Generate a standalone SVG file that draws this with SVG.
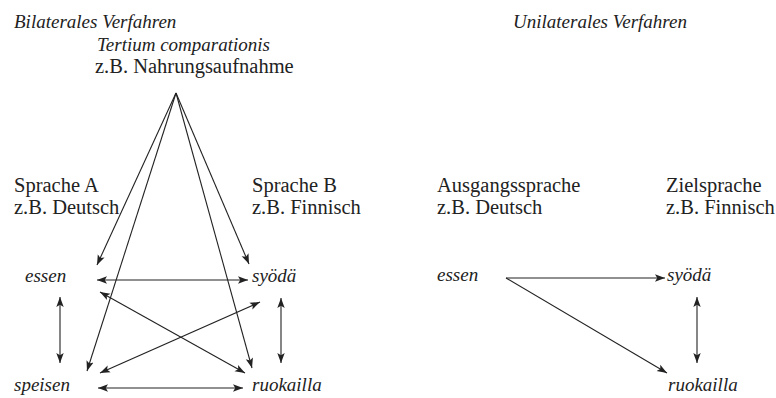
<svg xmlns="http://www.w3.org/2000/svg" width="776" height="398" viewBox="0 0 776 398">
<style>
text{font-family:"Liberation Serif","Times New Roman",serif;font-size:20.5px;fill:#222}
.it{font-style:italic;font-size:19px}
.c line{stroke:#222;stroke-width:1.1;fill:none}
.a{marker-end:url(#ah)}
.b{marker-start:url(#as);marker-end:url(#ah)}
</style>
<defs>
<marker id="ah" markerUnits="userSpaceOnUse" markerWidth="11" markerHeight="9" refX="10" refY="4.5" orient="auto"><path d="M0,0.8 L10,4.5 L0,8.2 L2.2,4.5 z" fill="#222"/></marker>
<marker id="as" markerUnits="userSpaceOnUse" markerWidth="11" markerHeight="9" refX="0" refY="4.5" orient="auto"><path d="M10,0.8 L0,4.5 L10,8.2 L7.8,4.5 z" fill="#222"/></marker>
</defs>
<rect width="776" height="398" fill="#fff"/>
<g id="title-bilateral"><text class="it" x="14" y="28">Bilaterales Verfahren</text></g>
<g id="tertium"><text class="it" x="97" y="51">Tertium comparationis</text><text x="95" y="73">z.B. Nahrungsaufnahme</text></g>
<g id="sprache-a"><text x="14" y="192">Sprache A</text><text x="14" y="214">z.B. Deutsch</text></g>
<g id="sprache-b"><text x="252" y="192">Sprache B</text><text x="252" y="214">z.B. Finnisch</text></g>
<g id="l-essen"><text class="it" x="25" y="282">essen</text></g>
<g id="l-speisen"><text class="it" x="14" y="391">speisen</text></g>
<g id="l-syoda"><text class="it" x="252" y="282">syödä</text></g>
<g id="l-ruokailla"><text class="it" x="252" y="391">ruokailla</text></g>
<g id="title-unilateral"><text class="it" x="513" y="28">Unilaterales Verfahren</text></g>
<g id="ausgang"><text x="437" y="192">Ausgangssprache</text><text x="437" y="214">z.B. Deutsch</text></g>
<g id="ziel"><text x="666" y="192">Zielsprache</text><text x="666" y="214">z.B. Finnisch</text></g>
<g id="r-essen"><text class="it" x="437" y="281">essen</text></g>
<g id="r-syoda"><text class="it" x="667" y="281">syödä</text></g>
<g id="r-ruokailla"><text class="it" x="668" y="391">ruokailla</text></g>
<g class="c" id="connectors">
<line class="a" x1="176" y1="93" x2="97" y2="265"/>
<line class="a" x1="176" y1="93" x2="87" y2="371"/>
<line class="a" x1="176" y1="93" x2="249" y2="264"/>
<line class="a" x1="176" y1="93" x2="252" y2="368"/>
<line class="b" x1="97" y1="280" x2="248" y2="280"/>
<line class="b" x1="100" y1="292" x2="245" y2="373"/>
<line class="b" x1="260" y1="302" x2="100" y2="373"/>
<line class="b" x1="98" y1="388" x2="243" y2="388"/>
<line class="b" x1="60" y1="297" x2="60" y2="363"/>
<line class="b" x1="281" y1="298" x2="281" y2="363"/>
<line class="a" x1="506" y1="278" x2="665" y2="278"/>
<line class="a" x1="506" y1="278" x2="667" y2="373"/>
<line class="b" x1="697" y1="297" x2="697" y2="363"/>
</g>
</svg>
